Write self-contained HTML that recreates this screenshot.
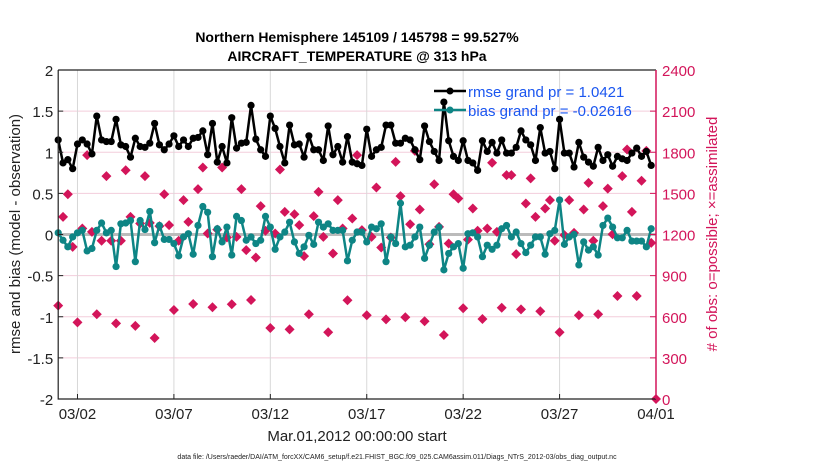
<!DOCTYPE html>
<html><head><meta charset="utf-8"><style>
html,body{margin:0;padding:0;background:#fff;}
svg{display:block;font-family:"Liberation Sans",sans-serif;}
</style></head><body>
<svg id="chart" width="830" height="470" viewBox="0 0 830 470">
<g id="grid"></g>
<g id="obs"></g>
<g id="series"></g>
<g id="axes"></g>
<text x="357" y="42" text-anchor="middle" font-size="14" font-weight="bold">Northern Hemisphere 145109 / 145798 = 99.527%</text>
<text x="357" y="61" text-anchor="middle" font-size="14" font-weight="bold">AIRCRAFT_TEMPERATURE @ 313 hPa</text>
<text transform="translate(20,234) rotate(-90)" text-anchor="middle" font-size="15" fill="#222">rmse and bias (model - observation)</text>
<text transform="translate(717,234) rotate(-90)" text-anchor="middle" font-size="15" fill="#d3155a"># of obs: o=possible; ×=assimilated</text>
<text x="357" y="441" text-anchor="middle" font-size="15" fill="#222">Mar.01,2012 00:00:00 start</text>
<text x="397" y="459" text-anchor="middle" font-size="7" fill="#222">data file: /Users/raeder/DAI/ATM_forcXX/CAM6_setup/f.e21.FHIST_BGC.f09_025.CAM6assim.011/Diags_NTrS_2012-03/obs_diag_output.nc</text>
<g>
<line x1="434" y1="91" x2="466" y2="91" stroke="#000" stroke-width="2.5"/>
<circle cx="450" cy="91" r="3.5" fill="#000"/>
<text x="468" y="97" font-size="15" fill="#1a56f0">rmse grand pr = 1.0421</text>
<line x1="434" y1="110" x2="466" y2="110" stroke="#0e8585" stroke-width="2.5"/>
<circle cx="450" cy="110" r="3.5" fill="#0e8585"/>
<text x="468" y="116" font-size="15" fill="#1a56f0">bias grand pr = -0.02616</text>
</g>
</svg>
<script>
const rmse = [1.15,0.87,0.91,0.80,1.10,1.15,1.10,0.98,1.44,1.15,1.13,1.13,1.40,1.09,1.07,0.94,1.17,1.07,1.06,1.11,1.35,1.09,1.03,1.10,1.20,1.07,1.15,1.07,1.17,1.18,1.26,0.97,
1.35,0.88,1.07,0.87,1.42,1.05,1.11,1.12,1.57,1.16,1.03,0.95,1.44,1.29,1.07,0.87,1.33,1.09,1.10,0.94,1.20,1.03,1.03,0.90,1.32,0.97,1.07,0.88,1.19,0.88,0.86,
0.84,1.28,0.95,1.03,1.06,1.33,1.33,1.11,1.11,1.17,1.15,1.03,0.91,1.32,1.13,1.01,0.90,1.61,1.14,0.95,0.90,1.14,0.90,0.87,0.78,1.14,1.01,1.12,0.99,1.15,
0.99,0.99,1.06,1.26,1.15,1.09,0.90,1.30,0.99,1.01,0.80,1.40,0.99,0.99,0.82,1.12,0.94,0.88,0.83,1.06,0.90,0.97,0.83,0.95,0.92,0.90,0.99,1.05,0.95,1.01,0.84];
const bias = [0.02,-0.07,-0.15,-0.03,0.02,0.05,-0.20,-0.17,0.05,0.14,0.02,0.05,-0.39,0.13,0.14,0.17,-0.33,0.17,0.06,0.28,-0.10,0.11,-0.06,-0.06,-0.11,-0.26,-0.03,0.01,-0.24,0.11,0.34,0.27,
-0.27,0.07,-0.09,0.09,-0.25,0.22,0.17,-0.07,-0.03,-0.11,-0.07,0.22,0.09,-0.18,-0.03,0.03,0.15,-0.09,-0.23,-0.15,-0.01,-0.12,0.15,0.09,0.13,0.05,0.05,0.05,-0.32,-0.07,0.03,
0.03,-0.09,0.09,0.07,0.13,-0.33,-0.03,-0.11,0.38,-0.15,-0.13,-0.03,0.09,-0.29,-0.13,0.03,0.09,-0.43,-0.23,-0.15,-0.11,-0.41,0.01,0.02,-0.03,-0.27,-0.13,-0.18,-0.13,0.07,
0.11,-0.03,0.03,-0.11,-0.22,-0.13,-0.03,-0.03,-0.24,0.01,0.05,0.42,-0.12,-0.03,0.00,-0.37,-0.09,-0.19,-0.15,-0.25,0.11,0.20,0.09,-0.04,-0.04,0.05,-0.08,-0.08,-0.08,-0.15,0.07];
const obsCount = [681,1329,1494,1110, 559,1244,1779,1219, 618,1154,1626,1154, 552,1154,1669,1329,
533,1280,1626,1285, 445,1261,1494,1268, 649,1154,1451,1292, 693,1531,1689,1207,
669,1236,1689,1178, 691,1183,1531,1086, 722,1032,1407,1227, 518,1207,1674,1365,
508,1348,1268,1042, 618,1334,1511,1183, 487,1061,1451,1244, 720,1317,1779,1232,
611,1183,1543,1105, 581,1178,1730,1480, 596,1275,1810,1382, 567,1129,1567,1256,
467,1134,1494,1463, 662,1163,1390,1227, 584,1244,1723,1219, 666,1633,1633,1057,
654,1426,1609,1329, 640,1390,1451,1154, 487,1195,1451,1212, 611,1382,1577,1154,
618,1407,1535,1202, 751,1626,1820,1365, 751,1592,1810,1139, 0];
const xTickLabels = ["03/02","03/07","03/12","03/17","03/22","03/27","04/01"];
const xTickDays = [1,6,11,16,21,26,31];
const yTicks = [-2,-1.5,-1,-0.5,0,0.5,1,1.5,2];
const y2Ticks = [0,300,600,900,1200,1500,1800,2100,2400];

const NS="http://www.w3.org/2000/svg";
const L=58.2,R=656,T=70,B=399;
const xDay=d=>L+(R-L)*d/31;
const xIdx=i=>xDay(i/4);
const yL=v=>B-(v+2)/4*(B-T);
const yR=c=>B-c/2400*(B-T);
function mk(tag,attrs,parent){const e=document.createElementNS(NS,tag);for(const k in attrs)e.setAttribute(k,attrs[k]);parent.appendChild(e);return e;}
const grid=document.getElementById('grid'),axes=document.getElementById('axes'),ser=document.getElementById('series'),obs=document.getElementById('obs');

yTicks.forEach(v=>{
  if(v>-2&&v<2&&v!==0){const g=mk('line',{x1:L,x2:R,y1:yL(v),y2:yL(v),stroke:'#f3cddb','stroke-width':1},grid);
  
  }
  const t=mk('text',{x:L-5,y:yL(v)+6,'text-anchor':'end','font-size':15,fill:'#222'},axes);t.textContent=v;
  
  
  mk('line',{x1:L,x2:L+5,y1:yL(v),y2:yL(v),stroke:'#222'},axes);
});
y2Ticks.forEach(c=>{
  const t=mk('text',{x:R+6,y:yR(c)+6,'font-size':15,fill:'#d3155a'},axes);t.textContent=c;
  
  
  mk('line',{x1:R-6,x2:R,y1:yR(c),y2:yR(c),stroke:'#d3155a'},axes);
});
xTickDays.forEach((d,k)=>{
  const x=xDay(d);
  if(d<31){const g=mk('line',{x1:x,x2:x,y1:T,y2:B,stroke:'#d8d8d8','stroke-width':1},grid);
  
  }
  mk('line',{x1:x,x2:x,y1:B,y2:B-5,stroke:'#222'},axes);
  const t=mk('text',{x:x,y:419,'text-anchor':'middle','font-size':15,fill:'#222'},axes);t.textContent=xTickLabels[k];
  
  
});
const zl=mk('line',{x1:L,x2:R,y1:yL(0),y2:yL(0),stroke:'#bbbbbb','stroke-width':3},grid);


const fr=mk('path',{d:`M${L},${T}H${R}M${L},${T}V${B}H${R}`,fill:'none',stroke:'#222','stroke-width':1.2},axes);


const ra=mk('line',{x1:R,x2:R,y1:T,y2:B,stroke:'#d3155a','stroke-width':1.5},axes);



obsCount.forEach((c,i)=>{
  if(c==null)return;
  const x=xIdx(i),y=yR(c);
  const m=mk('path',{d:`M${x},${y-5}L${x+5},${y}L${x},${y+5}L${x-5},${y}Z`,fill:'#d3155a'},obs);
  
  
});
function series(arr,color,name){
  const p=mk('polyline',{points:arr.map((v,i)=>xIdx(i)+','+yL(v)).join(' '),fill:'none',stroke:color,'stroke-width':2.5,'stroke-linejoin':'round'},ser);
  
  
  arr.forEach((v,i)=>{const c=mk('circle',{cx:xIdx(i),cy:yL(v),r:3.6,fill:color},ser);
    
    });
}
series(bias,'#0e8585','bias');
series(rmse,'#000000','rmse');
</script>
</body></html>
